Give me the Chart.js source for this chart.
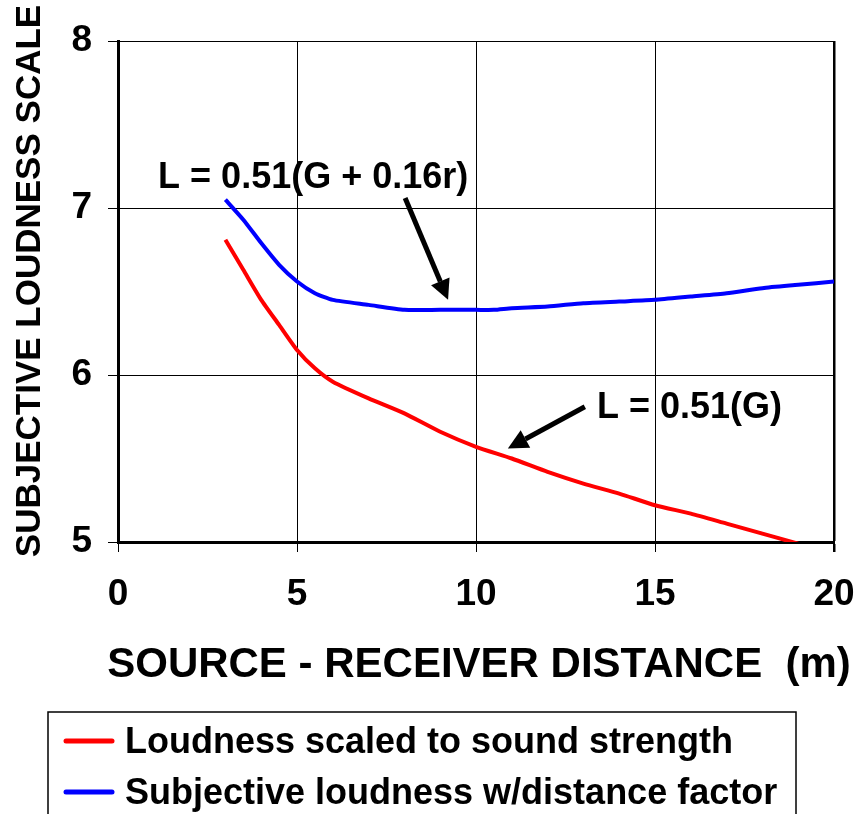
<!DOCTYPE html>
<html>
<head>
<meta charset="utf-8">
<script src="https://cdn.jsdelivr.net/npm/chart.js@4/dist/chart.umd.min.js"></script>
<style>
  html, body { margin: 0; padding: 0; background: #fff; }
  #wrap { width: 859px; height: 814px; }
</style>
</head>
<body>
<div id="wrap"><canvas id="loudnessChart" width="859" height="814"></canvas></div>
<script>
// distancia fonte-receptor (m) e escala de loudness
const distRed = [3, 3.5, 4, 4.5, 5, 5.5, 6, 7, 8, 9, 10, 11, 12, 13, 14, 15, 16, 17, 18, 19];
const loudRed = [6.81, 6.63, 6.45, 6.30, 6.15, 6.04, 5.96, 5.86, 5.77, 5.66, 5.57, 5.50, 5.42, 5.35, 5.29, 5.22, 5.17, 5.11, 5.05, 4.99];

const distBlue = [3, 3.5, 4, 4.5, 5, 5.5, 6, 7, 8, 9, 10, 10.5, 11, 12, 13, 14, 15, 16, 17, 18, 19, 20];
const loudBlue = [7.05, 6.93, 6.79, 6.66, 6.56, 6.49, 6.45, 6.42, 6.39, 6.39, 6.39, 6.39, 6.40, 6.41, 6.43, 6.44, 6.45, 6.47, 6.49, 6.52, 6.54, 6.56];

const xTicks = [0, 5, 10, 15, 20];
const yTicks = [5, 6, 7, 8];

const seriesNames = ['Loudness scaled to sound strength', 'Subjective loudness w/distance factor'];
const seriesColors = ['#ff0000', '#0000ff'];
const xTitle = 'SOURCE - RECEIVER DISTANCE  (m)';
const yTitle = 'SUBJECTIVE LOUDNESS SCALE';

// anotacoes (coordenadas em unidades dos eixos)
const notes = [
    { text: 'L = 0.51(G + 0.16r)', x: 1.12, y: 7.12, from: [8.02, 7.06], to: [9.22, 6.45] },
    { text: 'L = 0.51(G)', x: 13.38, y: 5.743, from: [13.04, 5.81], to: [10.89, 5.56] }
];

const FONT = '"Liberation Sans", Arial, sans-serif';

function toPoints(xs, ys) {
    return xs.map((x, i) => ({ x: x, y: ys[i] }));
}

const notesPlugin = {
    id: 'notes',
    afterDatasetsDraw(chart) {
        const ctx = chart.ctx;
        const xs = chart.scales.x;
        const ys = chart.scales.y;
        ctx.save();
        ctx.fillStyle = '#000';
        ctx.strokeStyle = '#000';
        ctx.font = 'bold 36px ' + FONT;
        ctx.textAlign = 'left';
        ctx.textBaseline = 'alphabetic';
        notes.forEach(n => {
            ctx.fillText(n.text, xs.getPixelForValue(n.x), ys.getPixelForValue(n.y));
            const x1 = xs.getPixelForValue(n.from[0]), y1 = ys.getPixelForValue(n.from[1]);
            const x2 = xs.getPixelForValue(n.to[0]), y2 = ys.getPixelForValue(n.to[1]);
            const ang = Math.atan2(y2 - y1, x2 - x1);
            const head = 20, half = 10;
            const bx = x2 - head * Math.cos(ang), by = y2 - head * Math.sin(ang);
            ctx.lineWidth = 5;
            ctx.beginPath();
            ctx.moveTo(x1, y1);
            ctx.lineTo(bx, by);
            ctx.stroke();
            ctx.beginPath();
            ctx.moveTo(x2, y2);
            ctx.lineTo(bx + half * Math.sin(ang), by - half * Math.cos(ang));
            ctx.lineTo(bx - half * Math.sin(ang), by + half * Math.cos(ang));
            ctx.closePath();
            ctx.fill();
        });
        ctx.restore();
    },
    afterDraw(chart) {
        const ctx = chart.ctx;
        const xs = chart.scales.x;

        // titulo do eixo x
        ctx.save();
        ctx.font = 'bold 42px ' + FONT;
        ctx.fillStyle = '#000';
        ctx.textAlign = 'center';
        ctx.textBaseline = 'alphabetic';
        ctx.fillText(xTitle, (xs.left + xs.right) / 2 + 3, 677);
        ctx.restore();

        // titulo do eixo y
        ctx.save();
        ctx.font = 'bold 35px ' + FONT;
        ctx.fillStyle = '#000';
        ctx.textAlign = 'center';
        ctx.textBaseline = 'middle';
        ctx.translate(30, 281);
        ctx.rotate(-Math.PI / 2);
        ctx.fillText(yTitle, 0, 0);
        ctx.restore();

        // caixa da legenda embaixo
        ctx.save();
        ctx.strokeStyle = '#000';
        ctx.lineWidth = 1.5;
        ctx.strokeRect(48, 712, 748, 110);
        ctx.font = 'bold 36px ' + FONT;
        ctx.textBaseline = 'alphabetic';
        ctx.fillStyle = '#000';
        const rows = [741, 792];
        seriesNames.forEach((name, i) => {
            ctx.strokeStyle = seriesColors[i];
            ctx.lineWidth = 5;
            ctx.lineCap = 'round';
            ctx.beginPath();
            ctx.moveTo(66, rows[i]);
            ctx.lineTo(112, rows[i]);
            ctx.stroke();
            ctx.fillText(name, 125, rows[i] + 12);
        });
        ctx.restore();
    }
};

const ctx = document.getElementById('loudnessChart').getContext('2d');
const loudnessChart = new Chart(ctx, {
    type: 'scatter',
    data: {
        datasets: [
            {
                label: seriesNames[0],
                data: toPoints(distRed, loudRed),
                showLine: true,
                borderColor: seriesColors[0],
                borderWidth: 4,
                pointRadius: 0,
                tension: 0.2
            },
            {
                label: seriesNames[1],
                data: toPoints(distBlue, loudBlue),
                showLine: true,
                borderColor: seriesColors[1],
                borderWidth: 4,
                pointRadius: 0,
                tension: 0.2
            }
        ]
    },
    options: {
        responsive: false,
        animation: false,
        layout: {
            padding: { top: 41, right: 25, bottom: 127, left: 0 }
        },
        plugins: {
            legend: { display: false },
            tooltip: { enabled: false }
        },
        scales: {
            x: {
                type: 'linear',
                min: 0,
                max: 20,
                afterBuildTicks: function(scale) {
                    scale.ticks = xTicks.map(v => ({ value: v }));
                },
                afterFit: function(scale) {
                    scale.height = 145;
                    scale.paddingLeft = 0;
                    scale.paddingRight = 0;
                },
                grid: {
                    color: '#000',
                    lineWidth: function(c) { return c.tick && c.tick.value === 20 ? 2.5 : 1; },
                    tickLength: 10
                },
                border: { color: '#000', width: 3 },
                ticks: {
                    color: '#000',
                    padding: 21,
                    font: { family: FONT, size: 37, weight: 'bold' }
                },
                title: { display: false }
            },
            y: {
                type: 'linear',
                min: 5,
                max: 8,
                afterBuildTicks: function(scale) {
                    scale.ticks = yTicks.map(v => ({ value: v }));
                },
                afterFit: function(scale) {
                    scale.width = 118;
                    scale.paddingTop = 0;
                    scale.paddingBottom = 0;
                },
                grid: {
                    color: '#000',
                    lineWidth: 1,
                    tickLength: 10
                },
                border: { color: '#000', width: 3 },
                ticks: {
                    color: '#000',
                    padding: 16,
                    font: { family: FONT, size: 37, weight: 'bold' }
                },
                title: { display: false }
            }
        }
    },
    plugins: [notesPlugin]
});
</script>
</body>
</html>
